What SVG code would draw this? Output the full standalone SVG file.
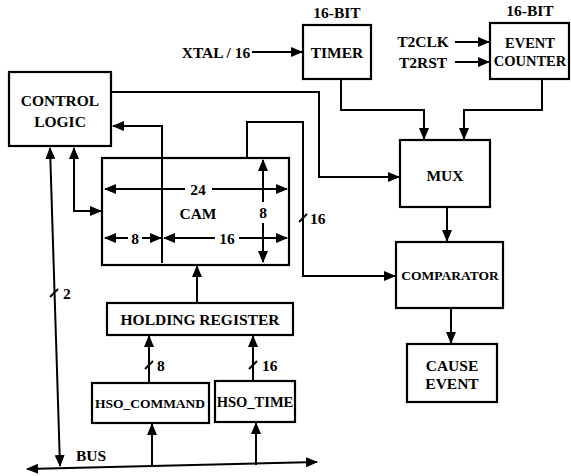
<svg xmlns="http://www.w3.org/2000/svg" width="571" height="476" viewBox="0 0 571 476">
<style>
.box{fill:#fff;stroke:#000;stroke-width:2.2}
.ln{fill:none;stroke:#000;stroke-width:2}
.t{font-family:"Liberation Serif",serif;font-weight:bold;font-size:15.5px;fill:#000;text-anchor:middle}
.s{font-size:13.5px}
.m{font-size:14.5px}
.l{text-anchor:start}
</style>
<defs>
<marker id="a" markerUnits="userSpaceOnUse" markerWidth="12" markerHeight="10" refX="11" refY="5" orient="auto-start-reverse" viewBox="0 0 12 10">
<path d="M0,0 L12,5 L0,10 z" fill="#000"/>
</marker>
</defs>
<rect width="571" height="476" fill="#fff"/>

<g id="connectors" class="ln">
<path d="M111,92 H319 V177 H399" marker-end="url(#a)"/>
<path d="M247,159 V122 H303 V276 H395" marker-end="url(#a)"/>
<path d="M299,222 L307,214"/>
<path d="M162,159 V126 H113" marker-end="url(#a)"/>
<path d="M74,148 V211 H101" marker-start="url(#a)" marker-end="url(#a)"/>
<path d="M50,148 L60,466" marker-start="url(#a)" marker-end="url(#a)"/>
<path d="M50,297 L58,289"/>
<path d="M27,469 L317,462" marker-start="url(#a)" marker-end="url(#a)"/>
<path d="M152,467 V424" marker-end="url(#a)"/>
<path d="M256,465 V423" marker-end="url(#a)"/>
<path d="M149,383 V336" marker-end="url(#a)"/>
<path d="M145,369 L153,361"/>
<path d="M253,381 V336" marker-end="url(#a)"/>
<path d="M249,369 L257,361"/>
<path d="M197,303 V266" marker-end="url(#a)"/>
<path d="M252,52 H302" marker-end="url(#a)"/>
<path d="M455,42 H489" marker-end="url(#a)"/>
<path d="M455,62 H489" marker-end="url(#a)"/>
<path d="M341,79 V110 H424 V139" marker-end="url(#a)"/>
<path d="M542,79 V110 H464 V139" marker-end="url(#a)"/>
<path d="M447,207 V241" marker-end="url(#a)"/>
<path d="M451,308 V343" marker-end="url(#a)"/>
</g>

<g id="control-logic">
<rect class="box" x="9" y="72" width="102" height="74"/>
<text class="t" x="60" y="106">CONTROL</text>
<text class="t" x="60" y="127">LOGIC</text>
</g>

<g id="cam">
<rect class="box" x="102" y="158" width="187" height="107"/>
<path class="ln" d="M162,158 V263"/>
<path class="ln" d="M105,189 H185" marker-start="url(#a)"/>
<path class="ln" d="M212,189 H287" marker-end="url(#a)"/>
<text class="t" x="198" y="195">24</text>
<text class="t" x="198" y="219">CAM</text>
<path class="ln" d="M105,238 H128" marker-start="url(#a)"/>
<path class="ln" d="M142,238 H161" marker-end="url(#a)"/>
<text class="t" x="135" y="244">8</text>
<path class="ln" d="M164,238 H215" marker-start="url(#a)"/>
<path class="ln" d="M239,238 H287" marker-end="url(#a)"/>
<text class="t" x="227" y="244">16</text>
<path class="ln" d="M263,160 V202" marker-start="url(#a)"/>
<path class="ln" d="M263,223 V262" marker-end="url(#a)"/>
<text class="t" x="263" y="218">8</text>
</g>

<g id="labels">
<text class="t l" x="310" y="224">16</text>
<text class="t l" x="63" y="299">2</text>
<text class="t l" x="157" y="371">8</text>
<text class="t l" x="262" y="371">16</text>
<text class="t l" x="76" y="461">BUS</text>
<text class="t" x="216" y="58">XTAL / 16</text>
<text class="t" x="423" y="47">T2CLK</text>
<text class="t" x="423" y="68">T2RST</text>
</g>

<g id="holding-register">
<rect class="box" x="107" y="303" width="186" height="32"/>
<text class="t" x="200" y="325">HOLDING REGISTER</text>
</g>

<g id="hso-command">
<rect class="box" x="92" y="383" width="117" height="40"/>
<text class="t s" x="150" y="408">HSO_COMMAND</text>
</g>

<g id="hso-time">
<rect class="box" x="215" y="381" width="80" height="41"/>
<text class="t m" x="255" y="407">HSO_TIME</text>
</g>

<g id="timer">
<text class="t" x="337" y="18">16-BIT</text>
<rect class="box" x="303" y="25" width="68" height="54"/>
<text class="t" x="337" y="58">TIMER</text>
</g>

<g id="event-counter">
<text class="t" x="530" y="16">16-BIT</text>
<rect class="box" x="490" y="23" width="79" height="56"/>
<text class="t m" x="530" y="48">EVENT</text>
<text class="t m" x="530" y="66">COUNTER</text>
</g>

<g id="mux">
<rect class="box" x="400" y="140" width="90" height="67"/>
<text class="t" x="445" y="181">MUX</text>
</g>

<g id="comparator">
<rect class="box" x="396" y="242" width="107" height="66"/>
<text class="t s" x="450" y="280">COMPARATOR</text>
</g>

<g id="cause-event">
<rect class="box" x="407" y="344" width="90" height="58"/>
<text class="t" x="452" y="371">CAUSE</text>
<text class="t" x="452" y="389">EVENT</text>
</g>
</svg>
